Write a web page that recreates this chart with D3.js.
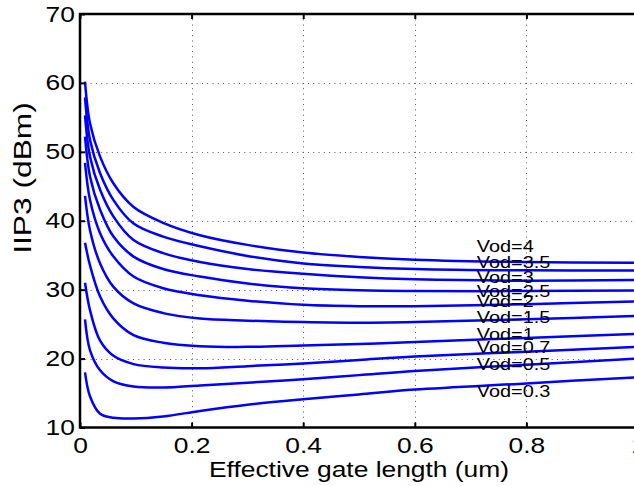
<!DOCTYPE html>
<html>
<head>
<meta charset="utf-8">
<script src="https://cdn.jsdelivr.net/npm/d3@7"></script>
<style>
  body { margin: 0; background: #fff; }
  svg { display: block; }
</style>
</head>
<body>
<div id="viz"></div>
<script>
const width = 634;
const height = 486;
const margin = {top: 14, left: 80};
const plotW = 558;   // axis continues past the right edge of the window
const plotH = 413.5;
const stretch = 1.2; // text in the reference is wider than it is tall
const lineColor = '#0000ff';

// tick labels
const xTicks = [0, 0.2, 0.4, 0.6, 0.8, 1];
const yTicks = [10, 20, 30, 40, 50, 60, 70];
const xGrid = [0.2, 0.4, 0.6, 0.8];
const yGrid = [20, 30, 40, 50, 60];

// effective gate length samples (um)
const gateLength = [0.009, 0.018, 0.036, 0.06, 0.096, 0.149, 0.215, 0.3, 0.4, 0.5, 0.6, 0.8, 1.0];

// IIP3 (dBm) for each overdrive voltage
const vod4   = [60.2, 54.1, 49.3, 45.4, 42.0, 39.7, 37.9, 36.5, 35.4, 34.75, 34.35, 34.0, 33.9];
const vod3_5 = [57.9, 51.7, 46.9, 43.0, 39.6, 37.7, 36.3, 34.9, 33.8, 33.3, 33.0, 32.8, 32.8];
const vod3   = [55.3, 49.3, 44.5, 40.6, 37.2, 35.3, 34.0, 33.0, 32.3, 31.8, 31.5, 31.3, 31.4];
const vod2_5 = [52.2, 46.4, 41.6, 37.7, 34.8, 33.0, 31.9, 30.9, 30.2, 29.9, 29.8, 29.8, 29.9];
const vod2   = [48.4, 43.0, 38.2, 34.8, 31.9, 30.2, 29.2, 28.4, 27.8, 27.6, 27.6, 27.9, 28.3];
const vod1_5 = [43.6, 38.6, 33.8, 30.4, 28.0, 26.6, 25.8, 25.5, 25.3, 25.2, 25.3, 25.7, 26.2];
const vod1   = [36.8, 33.5, 29.0, 25.8, 23.4, 22.3, 21.8, 21.7, 21.9, 22.1, 22.4, 23.0, 23.6];
const vod0_7 = [31.0, 27.0, 22.6, 20.4, 19.2, 18.7, 18.6, 18.9, 19.3, 19.8, 20.3, 21.0, 21.7];
const vod0_5 = [25.7, 21.2, 18.3, 16.7, 15.95, 15.8, 16.1, 16.5, 17.0, 17.6, 18.2, 19.1, 20.0];
const vod0_3 = [18.0, 14.5, 12.0, 11.4, 11.3, 11.6, 12.4, 13.3, 14.1, 14.8, 15.5, 16.4, 17.3];

// curve labels, placed in data coordinates
const labelNames = ['Vod=4', 'Vod=3.5', 'Vod=3', 'Vod=2.5', 'Vod=2', 'Vod=1.5', 'Vod=1', 'Vod=0.7', 'Vod=0.5', 'Vod=0.3'];
const labelX = 0.711;
const labelY = [35.5, 33.1, 30.9, 28.9, 27.5, 25.1, 22.7, 20.75, 18.3, 14.45];

const series = [vod4, vod3_5, vod3, vod2_5, vod2, vod1_5, vod1, vod0_7, vod0_5, vod0_3];

const svg = d3.select('#viz')
  .append('svg')
    .attr('width', width)
    .attr('height', height)
    .attr('viewBox', [0, 0, width, height]);

const xScale = d3.scaleLinear()
  .domain([0, 1])
  .range([margin.left, margin.left + plotW]);

const yScale = d3.scaleLinear()
  .domain([10, 70])
  .range([margin.top + plotH, margin.top]);

// grid
const grid = svg.append('g')
  .attr('stroke', '#555')
  .attr('stroke-width', 1)
  .attr('stroke-dasharray', '1,4.3');

grid.selectAll('.gx').data(xGrid).join('line')
  .attr('class', 'gx')
  .attr('x1', d => Math.round(xScale(d)) + 0.5)
  .attr('x2', d => Math.round(xScale(d)) + 0.5)
  .attr('y1', yScale(70))
  .attr('y2', yScale(10));

grid.selectAll('.gy').data(yGrid).join('line')
  .attr('class', 'gy')
  .attr('y1', d => Math.round(yScale(d)) + 0.5)
  .attr('y2', d => Math.round(yScale(d)) + 0.5)
  .attr('x1', xScale(0))
  .attr('x2', xScale(1));

// curves
const line = d3.line()
  .x((d, i) => xScale(gateLength[i]))
  .y(d => yScale(d))
  .curve(d3.curveCatmullRom.alpha(0.5));

svg.append('g')
  .selectAll('path')
  .data(series)
  .join('path')
    .attr('d', d => line(d))
    .attr('fill', 'none')
    .attr('stroke', lineColor)
    .attr('stroke-width', 2.5)
    .attr('stroke-linejoin', 'round');

// axes: ticks point inward
const fontFamily = '"Liberation Sans", Arial, Helvetica, sans-serif';

const xAxis = svg.append('g')
  .attr('transform', `translate(0, ${yScale(10)})`)
  .call(d3.axisBottom(xScale).tickValues(xTicks).tickFormat(d3.format('~g'))
    .tickSizeInner(-5).tickSizeOuter(0).tickPadding(9.5));

const yAxis = svg.append('g')
  .attr('transform', `translate(${xScale(0)}, 0)`)
  .call(d3.axisLeft(yScale).tickValues(yTicks)
    .tickSizeInner(-5).tickSizeOuter(0).tickPadding(4.2));

const xAxisTop = svg.append('g')
  .attr('transform', `translate(0, ${yScale(70)})`)
  .call(d3.axisTop(xScale).tickValues(xTicks).tickFormat('')
    .tickSizeInner(-5).tickSizeOuter(0));

[xAxis, yAxis, xAxisTop].forEach(ax => {
  ax.select('.domain').remove();
  ax.selectAll('line').attr('stroke', '#000').attr('stroke-width', 2);
  ax.selectAll('text')
    .attr('fill', '#000')
    .attr('font-family', fontFamily)
    .attr('font-size', 22)
    .attr('transform', `scale(${stretch},1)`);
});

// box
svg.append('rect')
  .attr('x', xScale(0))
  .attr('y', yScale(70))
  .attr('width', xScale(1) - xScale(0))
  .attr('height', yScale(10) - yScale(70))
  .attr('fill', 'none')
  .attr('stroke', '#000')
  .attr('stroke-width', 2.5);

// curve labels
svg.append('g')
  .selectAll('text')
  .data(labelNames)
  .join('text')
    .attr('transform', (d, i) => `translate(${xScale(labelX)}, ${yScale(labelY[i])}) scale(1.17,1)`)
    .attr('font-family', fontFamily)
    .attr('font-size', 17)
    .attr('fill', '#000')
    .text(d => d);

// axis titles
svg.append('text')
  .attr('transform', `translate(${xScale(0.5)}, 477) scale(${stretch},1)`)
  .attr('text-anchor', 'middle')
  .attr('font-family', fontFamily)
  .attr('font-size', 22)
  .text('Effective gate length (um)');

svg.append('text')
  .attr('transform', `translate(31, 178) rotate(-90) scale(1.38,1)`)
  .attr('text-anchor', 'middle')
  .attr('font-family', fontFamily)
  .attr('font-size', 23)
  .text('IIP3 (dBm)');
</script>
</body>
</html>
